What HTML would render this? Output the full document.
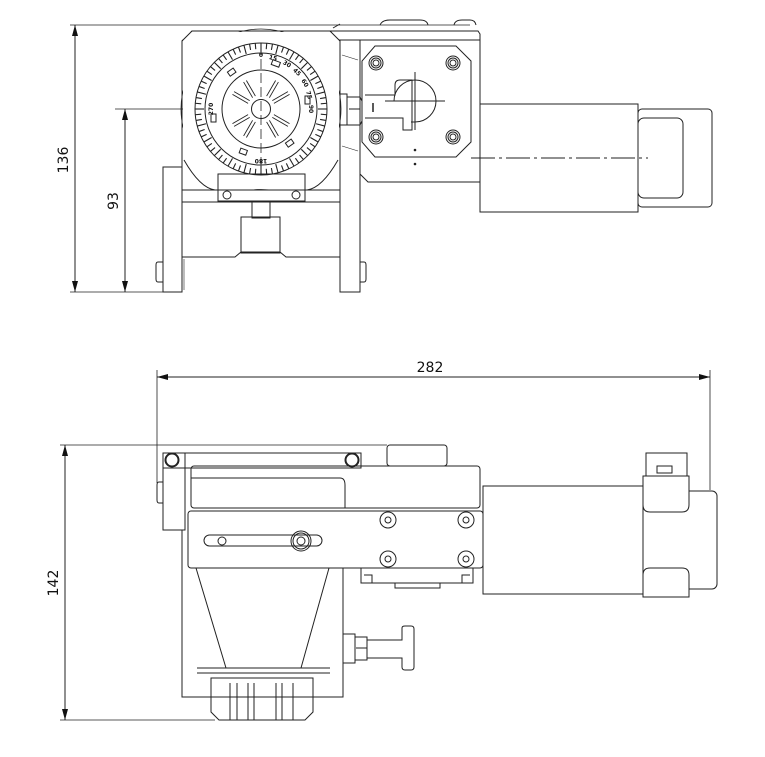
<!DOCTYPE html>
<html><head><meta charset="utf-8"><style>
html,body{margin:0;padding:0;background:#fff;}
svg{display:block;}
text{font-family:"DejaVu Sans","Liberation Sans",sans-serif;fill:#111;}
</style></head><body>
<svg id="s" width="765" height="757" viewBox="0 0 765 757" xmlns="http://www.w3.org/2000/svg">
<g fill="none" stroke="#222" stroke-width="1">
<!-- ===== TOP VIEW ===== -->
<!-- dimension 136 -->
<line x1="70" y1="25" x2="470" y2="25" stroke-width="0.8"/>
<line x1="70" y1="292" x2="182" y2="292" stroke-width="0.8"/>
<line x1="75" y1="25" x2="75" y2="292"/>
<line x1="115" y1="109" x2="330" y2="109" stroke-width="0.8"/>
<line x1="125" y1="109" x2="125" y2="292"/>
<!-- housing -->
<path d="M192 31 L330 31 L340 41 L340 190 L182 190 L182 41 Z"/>
<path d="M196 33 Q190 40 186 48 M330 33 Q338 40 338 50"/>
<circle cx="261" cy="109" r="80" stroke-width="0.8"/>
<rect x="183" y="32" width="156" height="157" fill="#fff" stroke="none"/>
<path d="M192 31 L330 31 L340 41 L340 190 L182 190 L182 41 Z"/>
<path d="M184 160 Q200 188 215 190 M338 160 Q322 188 307 190"/>
<!-- dial -->
<circle cx="261" cy="109" r="66"/>
<circle cx="261" cy="109" r="56"/>
<circle cx="261" cy="109" r="39"/>
<circle cx="261" cy="109" r="9.5"/>
<g id="ticks" stroke-width="1.1"></g>
<g id="spokes" stroke-width="0.9"></g>
<line x1="261" y1="45" x2="261" y2="173" stroke-dasharray="10,4" stroke-width="0.8"/>
<rect x="272" y="61" width="8" height="5" transform="rotate(20 276 63)"/>
<rect x="228" y="70" width="7" height="5" transform="rotate(-35 231 72)"/>
<rect x="305" y="96" width="5" height="8"/>
<rect x="211" y="114" width="5" height="8"/>
<rect x="240" y="149" width="7" height="5" transform="rotate(20 243 151)"/>
<rect x="286" y="141" width="7" height="5" transform="rotate(-35 289 143)"/>
<!-- right column -->
<rect x="340" y="40" width="20" height="252"/>
<line x1="342" y1="55" x2="358" y2="60" stroke-width="0.6"/>
<line x1="342" y1="146" x2="358" y2="151" stroke-width="0.6"/>
<!-- right housing -->
<path d="M330 31 L478 31 L480 34 L480 182 L368 182 L360 174 L360 40"/>
<path d="M333 28 L340 24 M380 25 Q382 20 390 20 L420 20 Q427 20 428 25 M454 25 Q455 20 462 20 L470 20 Q475 20 476 25"/>
<line x1="340" y1="40" x2="480" y2="40"/>
<path d="M375 46 L456 46 L471 61 L471 142 L456 157 L375 157 L362 142 L362 61 Z"/>
<g id="scr1"></g>
<path d="M394 101 A21 21 0 1 1 415 122 L411 122" />
<path d="M365 95 L395 95 L395 85 Q395 80 400 80 L412 80 L412 130 L403 130 L403 118 L365 118"/>
<line x1="373" y1="103" x2="373" y2="112" stroke-width="1.5"/>
<line x1="415" y1="72" x2="415" y2="130"/>
<line x1="385" y1="101" x2="445" y2="101"/>
<circle cx="415" cy="150" r="0.8" fill="#222"/>
<circle cx="415" cy="164" r="0.8" fill="#222"/>
<!-- nut -->
<path d="M340 94 L347 94 L347 125 L340 125 M347 97 L360 97 L362 101 L362 121 L360 125 L347 125 M349 109 L360 109"/>
<!-- cylinder -->
<rect x="480" y="104" width="158" height="108"/>
<rect x="638" y="109" width="74" height="98" rx="4"/>
<rect x="638" y="118" width="45" height="80" rx="6"/>
<line x1="471" y1="158" x2="648" y2="158" stroke-dasharray="24,4,3,4" stroke-width="0.9"/>
<!-- lower part -->
<rect x="163" y="167" width="19" height="125"/>
<path d="M163 262 L158 262 Q156 262 156 265 L156 279 Q156 282 158 282 L163 282"/>
<path d="M360 262 L364 262 Q366 262 366 265 L366 279 Q366 282 364 282 L360 282"/>
<line x1="182" y1="202" x2="340" y2="202"/>
<path d="M182 257 L235 257 L241 252 L280 252 L286 257 L340 257"/>
<line x1="184" y1="259" x2="184" y2="290" stroke-width="0.6"/>
<rect x="218" y="174" width="87" height="27"/>
<line x1="218" y1="190" x2="305" y2="190" stroke-width="0.6"/>
<circle cx="227" cy="195" r="4"/><circle cx="296" cy="195" r="4"/>
<rect x="252" y="201" width="18" height="17"/>
<rect x="241" y="217" width="39" height="36"/>

<!-- ===== BOTTOM VIEW ===== -->
<line x1="157" y1="370" x2="157" y2="483" stroke-width="0.8"/>
<line x1="710" y1="370" x2="710" y2="490" stroke-width="0.8"/>
<line x1="157" y1="377" x2="710" y2="377"/>
<line x1="60" y1="445" x2="387" y2="445" stroke-width="0.8"/>
<line x1="60" y1="720" x2="215" y2="720" stroke-width="0.8"/>
<line x1="65" y1="445" x2="65" y2="720"/>
<!-- top housing -->
<rect x="163" y="453" width="198" height="15"/>
<circle cx="172" cy="460" r="6.5" stroke-width="2"/>
<circle cx="352" cy="460" r="6.5" stroke-width="2"/>
<rect x="163" y="453" width="22" height="77"/>
<path d="M163 482 L159 482 Q157 482 157 485 L157 500 Q157 503 159 503 L163 503"/>
<rect x="387" y="445" width="60" height="21" rx="3"/>
<rect x="191" y="466" width="289" height="42" rx="3"/>
<path d="M191 478 L340 478 Q345 478 345 485 L345 508"/>
<rect x="188" y="511" width="295" height="57" rx="3"/>
<rect x="204" y="535" width="118" height="11" rx="5.5"/>
<circle cx="222" cy="541" r="4"/>
<circle cx="301" cy="541" r="10"/><circle cx="301" cy="541" r="8"/><circle cx="301" cy="541" r="4"/>
<g id="scr2"></g>
<path d="M361 568 L361 583 L473 583 L473 568 M364 575 L372 575 L372 583 M462 583 L462 575 L470 575 M395 583 L395 588 L440 588 L440 583"/>
<!-- cylinder -->
<rect x="483" y="486" width="160" height="108"/>
<rect x="643" y="491" width="74" height="98" rx="5"/>
<path d="M643 476 L643 505 Q643 512 650 512 L682 512 Q689 512 689 505 L689 476 Z" fill="#fff"/>
<rect x="646" y="453" width="41" height="23"/>
<rect x="657" y="466" width="15" height="7"/>
<path d="M643 597 L643 575 Q643 568 650 568 L682 568 Q689 568 689 575 L689 597 Z" fill="#fff"/>
<!-- cone / lower body -->
<path d="M182 530 L182 697 L343 697 L343 568"/>
<path d="M196 568 L226 668 M329 568 L301 668"/>
<line x1="197" y1="668" x2="330" y2="668"/>
<line x1="197" y1="673" x2="330" y2="673"/>
<path d="M211 678 L313 678 L313 712 L305 720 L219 720 L211 712 Z"/>
<path d="M230 683 L230 720 M237 683 L237 720 M248 683 L248 720 M254 683 L254 720 M276 683 L276 720 M282 683 L282 720 M293 683 L293 720"/>
<!-- side pin -->
<rect x="343" y="634" width="12" height="29"/>
<path d="M355 637 L367 637 L367 660 L355 660 M356 648 L367 648"/>
<path d="M367 640 L402 640 L402 628 Q402 626 405 626 L411 626 Q414 626 414 629 L414 667 Q414 670 411 670 L405 670 Q402 670 402 667 L402 658 L367 658"/>
</g>
<!-- arrowheads -->
<g fill="#111">
<path d="M75 25 L72 36 L78 36 Z"/><path d="M75 292 L72 281 L78 281 Z"/>
<path d="M125 109 L122 120 L128 120 Z"/><path d="M125 292 L122 281 L128 281 Z"/>
<path d="M157 377 L168 374 L168 380 Z"/><path d="M710 377 L699 374 L699 380 Z"/>
<path d="M65 445 L62 456 L68 456 Z"/><path d="M65 720 L62 709 L68 709 Z"/>
</g>
<!-- dim text -->
<text x="0" y="0" font-size="14" transform="translate(68 160) rotate(-90)" text-anchor="middle">136</text>
<text x="0" y="0" font-size="14" transform="translate(118 201) rotate(-90)" text-anchor="middle">93</text>
<text x="430" y="372" font-size="14" text-anchor="middle">282</text>
<text x="0" y="0" font-size="14" transform="translate(58 583) rotate(-90)" text-anchor="middle">142</text>
<!-- dial numbers -->
<g font-size="6" font-weight="bold" text-anchor="middle">
<text x="261" y="57">0</text>
<text x="273" y="60" transform="rotate(15 273 58)">15</text>
<text x="287" y="66" transform="rotate(30 287 64)">30</text>
<text x="297" y="74" transform="rotate(45 297 72)">45</text>
<text x="305" y="85" transform="rotate(60 305 83)">60</text>
<text x="309" y="97" transform="rotate(75 309 95)">75</text>
<text x="311" y="111" transform="rotate(90 311 109)">90</text>
<text x="261" y="163" transform="rotate(180 261 161)">180</text>
<text x="211" y="111" transform="rotate(-90 211 109)">270</text>
</g>
</svg>
<script>
var ns="http://www.w3.org/2000/svg";
function ln(g,x1,y1,x2,y2){var l=document.createElementNS(ns,"line");l.setAttribute("x1",x1);l.setAttribute("y1",y1);l.setAttribute("x2",x2);l.setAttribute("y2",y2);g.appendChild(l);}
function ci(g,x,y,r,w){var c=document.createElementNS(ns,"circle");c.setAttribute("cx",x);c.setAttribute("cy",y);c.setAttribute("r",r);if(w)c.setAttribute("stroke-width",w);g.appendChild(c);}
var cx=261,cy=109,t=document.getElementById("ticks");
for(var i=0;i<72;i++){var a=i*5*Math.PI/180;var r1=(i%3==0)?57:60;ln(t,cx+r1*Math.sin(a),cy-r1*Math.cos(a),cx+66*Math.sin(a),cy-66*Math.cos(a));}
var s=document.getElementById("spokes");
[30,60,120,150,210,240,300,330].forEach(function(d){var a=d*Math.PI/180,px=Math.cos(a),py=Math.sin(a),nx=-py*1.6,ny=px*1.6;
ln(s,cx+14*px+nx,cy+14*py+ny,cx+32*px+nx,cy+32*py+ny);ln(s,cx+14*px-nx,cy+14*py-ny,cx+32*px-nx,cy+32*py-ny);});
var g1=document.getElementById("scr1");
[[376,63],[453,63],[376,137],[453,137]].forEach(function(p){ci(g1,p[0],p[1],7);ci(g1,p[0],p[1],5);ci(g1,p[0],p[1],3);});
var g2=document.getElementById("scr2");
[[388,520],[466,520],[388,559],[466,559]].forEach(function(p){ci(g2,p[0],p[1],8);ci(g2,p[0],p[1],3);});
</script>
</body></html>
